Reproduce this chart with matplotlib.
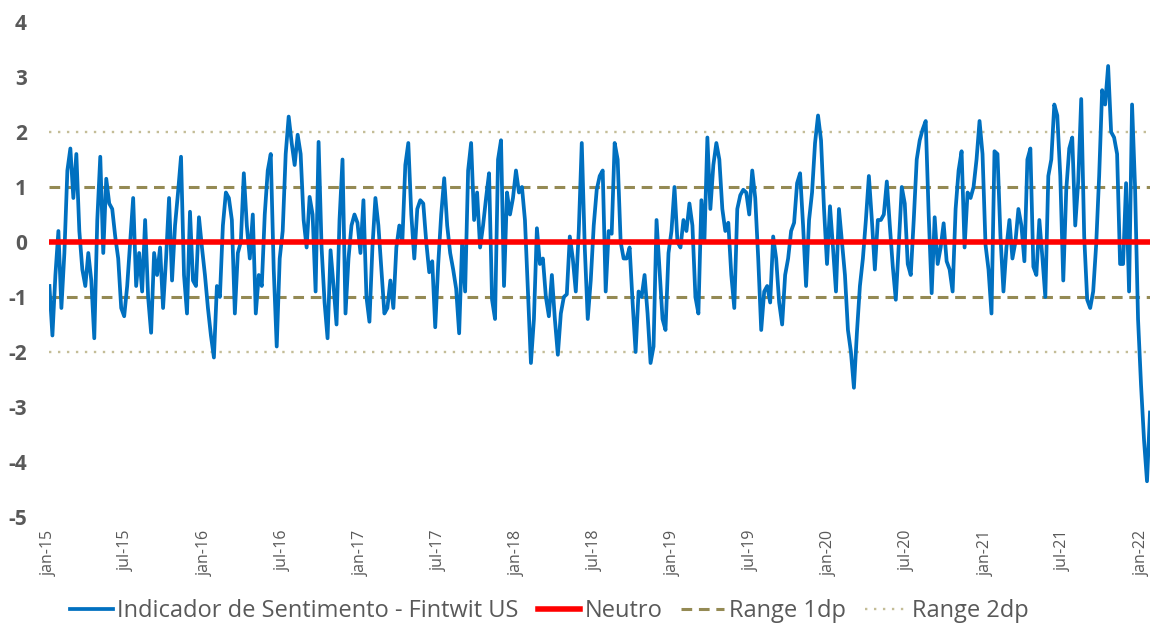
import matplotlib
matplotlib.use('Agg')
import matplotlib.pyplot as plt
from matplotlib.lines import Line2D
import pandas as pd

# Indicador de Sentimento - Fintwit US (semanal)
sentimento = [
    -0.8, -1.7, -0.6, 0.2, -1.2, -0.2, 1.3, 1.7, 0.8, 1.6,
    0.2, -0.5, -0.8, -0.2, -0.7, -1.75, 0.4, 1.55, -0.2, 1.15,
    0.7, 0.6, 0.1, -0.3, -1.2, -1.35, -0.8, 0.0, 0.8, -0.8,
    -0.2, -0.9, 0.4, -1.0, -1.65, -0.2, -0.6, -0.1, -1.2, -0.3,
    0.8,
    -0.7, 0.3, 0.9, 1.55, -0.6, -1.3, 0.55, -0.7, -0.8, 0.45,
    -0.1, -0.6, -1.2, -1.7, -2.1, -0.8, -1.0, 0.3, 0.9, 0.8,
    0.4, -1.3, -0.2, 0.0, 1.25, 0.3, -0.3, 0.5, -1.3, -0.6,
    -0.8, 0.5, 1.3, 1.6, -0.5, -1.9, -0.3, 0.2, 1.6, 2.28,
    1.8,
    1.4, 1.95, 1.6, 0.4, -0.1, 0.82, 0.5, -0.9, 1.82, -0.1,
    -1.1, -1.75, -0.15, -0.8, -1.5, 0.4, 1.5, -1.3, -0.3, 0.3,
    0.5, 0.35, -0.2, 0.76, -1.0, -1.45, -0.1, 0.8, 0.3, -0.5,
    -1.3, -1.2, -0.7, -1.2, -0.1, 0.3, 0.0, 1.4, 1.8, 0.5,
    -0.3, 0.6,
    0.76, 0.7, 0.0, -0.55, -0.35, -1.55, -0.4, 0.5, 1.16, 0.3,
    -0.2, -0.5, -0.85, -1.66, 0.0, -0.9, 1.3, 1.8, 0.4, 0.9,
    -0.1, 0.3, 0.8, 1.25, -1.05, -1.4, 1.5, 1.85, -0.8, 0.9,
    0.5, 0.8, 1.3, 0.9, 1.0, 0.4, -0.9, -2.2, -1.4, 0.25,
    -0.4, -0.3,
    -1.0, -1.35, -0.6, -1.4, -2.05, -1.3, -1.0, -0.95, 0.1, -0.3,
    -0.9, 0.2, 1.8, -0.1, -1.4, -0.7, 0.3, 0.95, 1.2, 1.3,
    -0.9, 0.2, 0.15, 1.8, 1.5, 0.0, -0.3, -0.3, -0.1, -1.1,
    -2.0, -0.9, -1.0, -0.6, -1.3, -2.2, -1.9, 0.4, -0.5, -1.4,
    -1.6,
    -0.2, 0.2, 1.0, 0.0, -0.1, 0.4, 0.2, 0.7, 0.3, -1.0,
    -1.3, 0.76, 0.0, 1.9, 0.6, 1.4, 1.8, 1.5, 0.6, 0.2,
    0.35, -0.6, -1.2, 0.6, 0.85, 0.95, 0.9, 0.5, 1.3, 0.8,
    -0.3, -1.6, -0.9, -0.8, -1.1, 0.1, -0.3, -1.1, -1.5, -0.6,
    -0.3, 0.2,
    0.35, 1.07, 1.25, 0.3, -0.8, 0.4, 0.9, 1.8, 2.3, 1.85,
    0.6, -0.4, 0.65, -0.1, -0.9, 0.6, 0.0, -0.6, -1.6, -2.0,
    -2.65, -1.65, -0.8, -0.3, 0.4, 1.2, 0.4, -0.5, 0.4, 0.4,
    0.5, 1.1, 0.3, -0.45, -1.05, -0.05, 1.0, 0.7, -0.4, -0.6,
    0.4, 1.5,
    1.85, 2.05, 2.2, 0.5, -0.93, 0.45, -0.4, -0.1, 0.34, -0.35,
    -0.5, -0.9, 0.6, 1.3, 1.65, -0.1, 0.9, 0.8, 1.0, 1.5,
    2.2, 1.6, -0.05, -0.5, -1.3, 1.65, 1.6, 0.1, -0.9, -0.1,
    0.4, -0.3, 0.0, 0.6, 0.3, -0.35, 1.5, 1.7, -0.45, -0.6,
    0.4,
    -0.27, -1.0, 1.2, 1.5, 2.5, 2.3, 1.2, -0.7, 0.95, 1.7,
    1.9, 0.3, 1.1, 2.6, 0.1, -1.05, -1.2, -0.9, -0.05, 1.2,
    2.76, 2.5, 3.2, 2.0, 1.9, 1.6, -0.4, -0.4, 1.07, -0.9,
    2.5, 1.0, -1.4, -2.6, -3.6, -4.35, -3.1,
]
datas = pd.date_range('2015-01-02', periods=len(sentimento), freq='7D')

neutro = 0
range_1dp = [1, -1]
range_2dp = [2, -2]

tick_datas = pd.to_datetime(['2015-01-01', '2015-07-01', '2016-01-01', '2016-07-01',
                             '2017-01-01', '2017-07-01', '2018-01-01', '2018-07-01',
                             '2019-01-01', '2019-07-01', '2020-01-01', '2020-07-01',
                             '2021-01-01', '2021-07-01', '2022-01-01'])
tick_labels = ['jan-15', 'jul-15', 'jan-16', 'jul-16', 'jan-17', 'jul-17', 'jan-18', 'jul-18',
               'jan-19', 'jul-19', 'jan-20', 'jul-20', 'jan-21', 'jul-21', 'jan-22']

plt.rcParams['font.family'] = ['Open Sans', 'DejaVu Sans']
plt.rcParams['axes.unicode_minus'] = False
cinza = '#595959'
azul = '#0070C0'
vermelho = '#FF0000'
oliva = '#948A54'
bege = '#C4BD97'

fig = plt.figure(figsize=(11.54, 6.25), dpi=100)
ax = fig.add_axes([49 / 1154, 1 - 517 / 625, (1150 - 49) / 1154, (517 - 22) / 625])

for r in range_2dp:
    ax.axhline(r, color=bege, lw=1.7, ls=(0, (1, 2.8)), zorder=1)
for r in range_1dp:
    ax.axhline(r, color=oliva, lw=2.2, ls=(0, (3.5, 2.2)), zorder=1)
ax.plot(datas, sentimento, color=azul, lw=2.7, zorder=3)
ax.axhline(neutro, color=vermelho, lw=4, zorder=4)

ax.set_xlim(datas[0], datas[-1])
ax.set_ylim(-5, 4)
ax.set_yticks(range(-5, 5))
ax.set_xticks(tick_datas)
ax.set_xticklabels(tick_labels, rotation=90)
for lbl in ax.get_yticklabels():
    lbl.set_fontweight('bold')
ax.tick_params(axis='y', length=0, labelsize=15, labelcolor=cinza, pad=16)
ax.tick_params(axis='x', length=0, labelsize=11.5, labelcolor=cinza, pad=9)
for s in ax.spines.values():
    s.set_visible(False)

handles = [
    Line2D([], [], color=azul, lw=2.7),
    Line2D([], [], color=vermelho, lw=4),
    Line2D([], [], color=oliva, lw=2.2, ls=(0, (3.5, 2.2))),
    Line2D([], [], color=bege, lw=1.7, ls=(0, (1, 2.8))),
]
labels = ['Indicador de Sentimento - Fintwit US', 'Neutro', 'Range 1dp', 'Range 2dp']
fig.legend(handles, labels, loc='center', bbox_to_anchor=(0.476, 0.022), ncol=4,
           frameon=False, fontsize=17, handlelength=1.8, handletextpad=0.2,
           columnspacing=0.8, labelcolor=cinza)

fig.savefig('out.png', dpi=100)
